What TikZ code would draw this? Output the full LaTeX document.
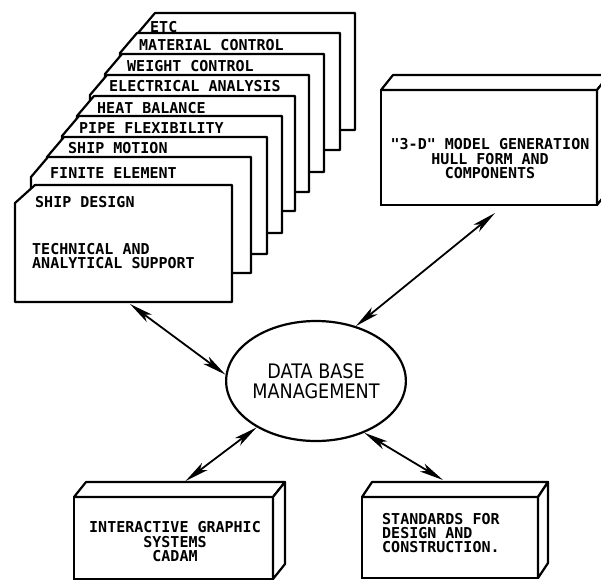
\documentclass[tikz,border=0pt]{standalone}
\usepackage{fontspec}
\usetikzlibrary{arrows.meta,shapes.geometric}
\newfontfamily\plotfont{DejaVu Sans Mono}
\newfontfamily\dbfont[FakeStretch=0.88]{DejaVu Sans}
\tikzset{
  card/.style={draw, line width=2.2pt, fill=white, line join=round},
  cardtext/.style={font=\plotfont\bfseries\fontsize{15}{14}\selectfont, inner sep=0pt, align=left},
  front/.style={draw, line width=2.2pt, fill=white, inner sep=0pt, outer sep=0pt},
  face/.style={draw, line width=2.2pt, fill=white, line join=round},
  boxtext/.style={font=\plotfont\bfseries\fontsize{15}{14.5}\selectfont, inner sep=0pt, align=center},
  dbase/.style={ellipse, draw, line width=2.2pt, inner sep=0pt, minimum width=142pt, minimum height=120pt,
    align=center, font=\dbfont\fontsize{20}{20}\selectfont},
  flow/.style={{Stealth[length=24pt,width=9pt,inset=6pt]}-{Stealth[length=24pt,width=9pt,inset=6pt]}, line width=1.8pt},
}
\begin{document}
\begin{tikzpicture}[x=1pt, y=-1pt]
  \useasboundingbox[fill=white] (0,0) rectangle (601,579);

  % stack of program cards, back to front
  \draw[card] (138,130) -- (138,33) -- (155,13) -- (355,13) -- (355,130) -- cycle;
  \node[cardtext, anchor=base west] (etc) at (150,32) {ETC};
  \draw[card] (120,150) -- (120,53) -- (137,33) -- (340,33) -- (340,150) -- cycle;
  \node[cardtext, anchor=base west] (matctl) at (139,50) {MATERIAL CONTROL};
  \draw[card] (105,172) -- (105,74) -- (122,54) -- (324,54) -- (324,172) -- cycle;
  \node[cardtext, anchor=base west] (wgtctl) at (127,71) {WEIGHT CONTROL};
  \draw[card] (90,192) -- (90,95) -- (107,75) -- (309,75) -- (309,192) -- cycle;
  \node[cardtext, anchor=base west] (elec) at (109,91) {ELECTRICAL ANALYSIS};
  \draw[card] (77,211) -- (77,116) -- (94,96) -- (295,96) -- (295,211) -- cycle;
  \node[cardtext, anchor=base west] (heat) at (97,113) {HEAT BALANCE};
  \draw[card] (62,233) -- (62,136) -- (79,116) -- (282,116) -- (282,233) -- cycle;
  \node[cardtext, anchor=base west] (pipe) at (79,133) {PIPE FLEXIBILITY};
  \draw[card] (47,254) -- (47,157) -- (64,137) -- (267,137) -- (267,254) -- cycle;
  \node[cardtext, anchor=base west] (motion) at (68,153) {SHIP MOTION};
  \draw[card] (31,273) -- (31,177) -- (48,157) -- (251,157) -- (251,273) -- cycle;
  \node[cardtext, anchor=base west] (finite) at (50,178) {FINITE ELEMENT};
  \draw[card] (15,302) -- (15,203) -- (35,185) -- (232,185) -- (232,302) -- cycle;
  \node[cardtext, anchor=base west] (shipdes) at (35,207) {SHIP DESIGN};
  \node[cardtext, anchor=west] (support) at (32,256) {TECHNICAL AND\\ANALYTICAL SUPPORT};
  \coordinate (shipfoot) at (130,304);

  % 3-D boxes
  \node[front, minimum width=216pt, minimum height=115pt] (hull) at (489,147.5) {};
  \draw[face] (hull.north west) -- ++(12,-15) -- ([shift={(12,-15)}]hull.north east) -- (hull.north east) -- cycle;
  \draw[face] (hull.north east) -- ++(12,-15) -- ([shift={(12,-15)}]hull.south east) -- (hull.south east) -- cycle;
  \node[boxtext] (hullT) at (490,159) {"3-D" MODEL GENERATION\\HULL FORM AND\\COMPONENTS};

  \node[front, minimum width=199pt, minimum height=82pt] (cadam) at (173.5,538) {};
  \draw[face] (cadam.north west) -- ++(12,-15) -- ([shift={(12,-15)}]cadam.north east) -- (cadam.north east) -- cycle;
  \draw[face] (cadam.north east) -- ++(12,-15) -- ([shift={(12,-15)}]cadam.south east) -- (cadam.south east) -- cycle;
  \node[boxtext] (cadamT) at (175,542) {INTERACTIVE GRAPHIC\\SYSTEMS\\CADAM};

  \node[front, minimum width=176pt, minimum height=81pt] (stand) at (450,537.5) {};
  \draw[face] (stand.north west) -- ++(10,-15) -- ([shift={(10,-15)}]stand.north east) -- (stand.north east) -- cycle;
  \draw[face] (stand.north east) -- ++(10,-15) -- ([shift={(10,-15)}]stand.south east) -- (stand.south east) -- cycle;
  \node[cardtext, anchor=west] (standT) at (382,533) {STANDARDS FOR\\DESIGN AND\\CONSTRUCTION.};

  % central data base
  \node[dbase] (dbm) at (316,381) {DATA BASE\\MANAGEMENT};

  \draw[flow] (shipfoot) -- (dbm.176);
  \draw[flow] (dbm.54) -- ([shift={(6,8)}]hull.south);
  \draw[flow] (dbm.218) -- ([shift={(12,-16)}]cadam.north);
  \draw[flow] (dbm.313) -- ([shift={(-7,-17)}]stand.north);
\end{tikzpicture}
\end{document}
